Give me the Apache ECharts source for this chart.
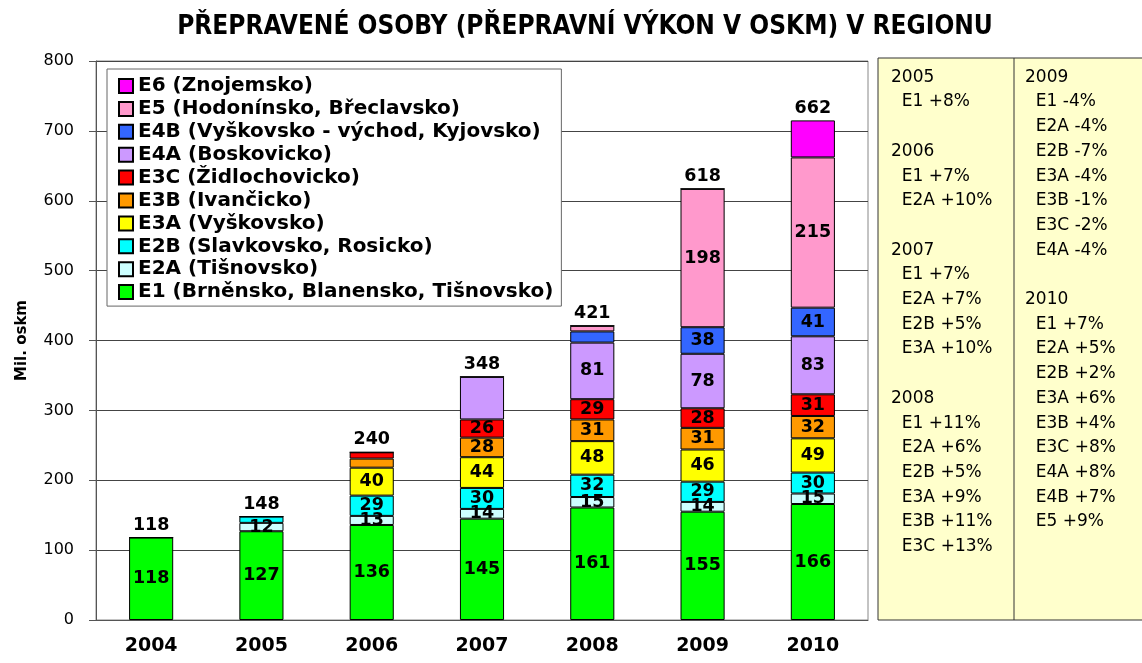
<!DOCTYPE html>
<html>
<head>
<meta charset="utf-8">
<title>Přepravené osoby</title>
<script src="https://cdn.jsdelivr.net/npm/echarts@6/dist/echarts.min.js"></script>
<style>
  html, body { margin: 0; padding: 0; background: #fff; }
  #chart { width: 1142px; height: 663px; }
</style>
</head>
<body>
<div id="chart"></div>
<script>
// roky
const years = ['2004', '2005', '2006', '2007', '2008', '2009', '2010']

// výkon v mil. oskm po regionech
const e1 = [118, 127, 136, 145, 161, 155, 166]
const e2a = [null, 12, 13, 14, 15, 14, 15]
const e2b = [null, 9, 29, 30, 32, 29, 30]
const e3a = [null, null, 40, 44, 48, 46, 49]
const e3b = [null, null, 13, 28, 31, 31, 32]
const e3c = [null, null, 9, 26, 29, 28, 31]
const e4a = [null, null, null, 61, 81, 78, 83]
const e4b = [null, null, null, null, 16, 38, 41]
const e5 = [null, null, null, null, 8, 198, 215]
const e6 = [0, 0, 0, 0, 0, 0, 53]

// popisky nad sloupci
const totals = [118, 148, 240, 348, 421, 618, 662]

// segmenty bez popisku (index roku)
const unlabeled = { E2B: [1], E3B: [2], E3C: [2], E4A: [3], E4B: [4], E5: [4] }

// meziroční změny v pravém panelu
const noteYearsLeft = ['2005', '2006', '2007', '2008']
const noteItemsLeft = [
  ['E1 +8%'],
  ['E1 +7%', 'E2A +10%'],
  ['E1 +7%', 'E2A +7%', 'E2B +5%', 'E3A +10%'],
  ['E1 +11%', 'E2A +6%', 'E2B +5%', 'E3A +9%', 'E3B +11%', 'E3C +13%']
]
const noteYearsRight = ['2009', '2010']
const noteItemsRight = [
  ['E1 -4%', 'E2A -4%', 'E2B -7%', 'E3A -4%', 'E3B -1%', 'E3C -2%', 'E4A -4%'],
  ['E1 +7%', 'E2A +5%', 'E2B +2%', 'E3A +6%', 'E3B +4%', 'E3C +8%', 'E4A +8%', 'E4B +7%', 'E5 +9%']
]

const regions = [
  { key: 'E1', name: 'E1 (Brněnsko, Blanensko, Tišnovsko)', data: e1, color: '#00ff00' },
  { key: 'E2A', name: 'E2A (Tišnovsko)', data: e2a, color: '#ccffff' },
  { key: 'E2B', name: 'E2B (Slavkovsko, Rosicko)', data: e2b, color: '#00ffff' },
  { key: 'E3A', name: 'E3A (Vyškovsko)', data: e3a, color: '#ffff00' },
  { key: 'E3B', name: 'E3B (Ivančicko)', data: e3b, color: '#ff9900' },
  { key: 'E3C', name: 'E3C (Židlochovicko)', data: e3c, color: '#ff0000' },
  { key: 'E4A', name: 'E4A (Boskovicko)', data: e4a, color: '#cc99ff' },
  { key: 'E4B', name: 'E4B (Vyškovsko - východ, Kyjovsko)', data: e4b, color: '#3366ff' },
  { key: 'E5', name: 'E5 (Hodonínsko, Břeclavsko)', data: e5, color: '#ff99cc' },
  { key: 'E6', name: 'E6 (Znojemsko)', data: e6, color: '#ff00ff' }
]

const font = 'DejaVu Sans, Verdana, sans-serif'

const series = regions.map(r => {
  const isTop = r.key === 'E6'
  return {
    name: r.name,
    type: 'bar',
    stack: 'total',
    barWidth: '40%',
    data: r.data,
    itemStyle: { color: r.color, borderColor: '#000', borderWidth: 1 },
    label: isTop
      ? {
          show: true,
          position: 'top',
          distance: 3,
          color: '#000',
          fontFamily: font,
          fontWeight: 'bold',
          fontSize: 17.5,
          formatter: p => totals[p.dataIndex]
        }
      : {
          show: true,
          position: 'inside',
          color: '#000',
          fontFamily: font,
          fontWeight: 'bold',
          fontSize: 17.5,
          formatter: p => {
            const skip = (unlabeled[r.key] || []).includes(p.dataIndex)
            return p.value && !skip ? p.value : ''
          }
        }
  }
})

// texty panelu
const noteLines = (ys, items) => {
  const lines = []
  ys.forEach((y, i) => {
    if (i > 0) lines.push('')
    lines.push(y)
    items[i].forEach(t => lines.push('  ' + t))
  })
  return lines.join('\n')
}

const chart = echarts.init(document.getElementById('chart'))

const option = {
  backgroundColor: '#fff',
  animation: false,
  title: {
    text: 'PŘEPRAVENÉ OSOBY (PŘEPRAVNÍ VÝKON V OSKM) V REGIONU',
    left: 580,
    textAlign: 'center',
    top: 9,
    textStyle: {
      fontFamily: 'DejaVu Sans Condensed, DejaVu Sans, sans-serif',
      fontWeight: 'bold',
      fontSize: 26,
      color: '#000'
    }
  },
  legend: {
    orient: 'vertical',
    left: 107,
    top: 69,
    data: regions.map(r => r.name).reverse(),
    selectedMode: false,
    backgroundColor: '#fff',
    borderColor: '#666',
    borderWidth: 1,
    padding: [6, 8, 3, 11],
    itemWidth: 14,
    itemHeight: 14,
    itemGap: 0.9,
    icon: 'rect',
    textStyle: {
      fontFamily: font,
      fontWeight: 'bold',
      fontSize: 20,
      lineHeight: 22,
      color: '#000'
    }
  },
  grid: {
    left: 96,
    right: 274,
    top: 61,
    bottom: 43,
    show: true,
    borderColor: '#888',
    borderWidth: 1
  },
  xAxis: {
    type: 'category',
    data: years,
    axisLine: { lineStyle: { color: '#555' } },
    axisTick: { length: 7, lineStyle: { color: '#555' } },
    axisLabel: {
      margin: 17,
      color: '#000',
      fontFamily: font,
      fontWeight: 'bold',
      fontSize: 19
    }
  },
  yAxis: {
    type: 'value',
    min: 0,
    max: 800,
    interval: 100,
    name: 'Mil. oskm',
    nameLocation: 'middle',
    nameRotate: 90,
    nameGap: 66,
    nameTextStyle: {
      fontFamily: font,
      fontWeight: 'bold',
      fontSize: 15,
      color: '#000'
    },
    axisLine: { show: true, lineStyle: { color: '#555' } },
    axisTick: { show: true, length: 7, lineStyle: { color: '#555' } },
    axisLabel: { margin: 22, color: '#000', fontFamily: font, fontSize: 16 },
    splitLine: { lineStyle: { color: '#444', width: 1 } }
  },
  graphic: [
    {
      type: 'rect',
      z: 0,
      shape: { x: 878, y: 58, width: 280, height: 562 },
      style: { fill: '#ffffcc', stroke: '#333', lineWidth: 1 }
    },
    {
      type: 'line',
      shape: { x1: 1014, y1: 58, x2: 1014, y2: 620 },
      style: { stroke: '#333', lineWidth: 1 }
    },
    {
      type: 'text',
      left: 891,
      top: 65,
      style: {
        text: noteLines(noteYearsLeft, noteItemsLeft),
        font: '17px ' + font,
        lineHeight: 24.7,
        fill: '#000'
      }
    },
    {
      type: 'text',
      left: 1025,
      top: 65,
      style: {
        text: noteLines(noteYearsRight, noteItemsRight),
        font: '17px ' + font,
        lineHeight: 24.7,
        fill: '#000'
      }
    }
  ],
  series
}

chart.setOption(option)

window.addEventListener('resize', () => {
  chart.resize()
})
</script>
</body>
</html>
